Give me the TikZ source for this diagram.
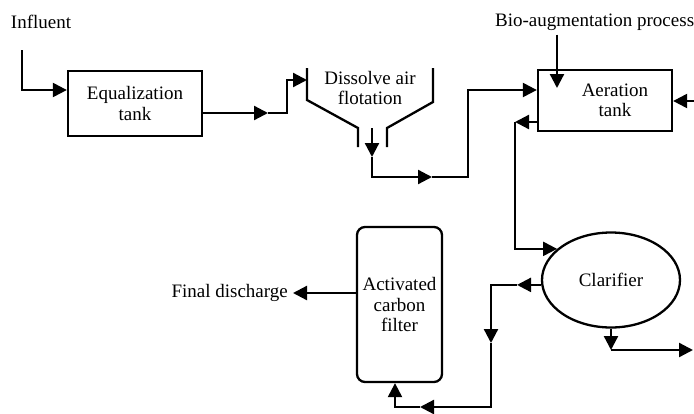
\documentclass[tikz,border=0pt]{standalone}
\usepackage{fontspec}
\setmainfont{Liberation Serif}
\usetikzlibrary{arrows.meta,shapes.geometric}
\begin{document}
\begin{tikzpicture}[x=1pt,y=-1pt,
  every node/.style={font=\fontsize{19}{20.5}\selectfont, align=center, inner sep=0pt},
  box/.style={draw, line width=2.3pt},
  flow/.style={line width=2.3pt, line join=miter, -{Triangle[length=14pt,width=14pt]}},
  pipe/.style={line width=2.3pt, line join=miter},
]
\useasboundingbox (0,0) rectangle (694,413);

% texts
\node (inf) at (41,22) {Influent};
\node[anchor=west] (bio) at (495,22) {Bio-augmentation process};
\node[anchor=east] (fin) at (288,293) {Final discharge};

% process units
\node[box, minimum width=134pt, minimum height=65pt] (eq) at (135,103.5) {Equalization\\tank};
\node[box, minimum width=134pt, minimum height=61pt] (aer) at (605,100.5) {\hspace*{20pt}Aeration\\\hspace*{20pt}tank};
\node[box, ellipse, minimum width=138pt, minimum height=95pt] (clar) at (611,280) {Clarifier};
\node[box, rounded corners=8pt, minimum width=85pt, minimum height=155pt] (acf) at (399.5,304.5) {Activated\\carbon\\filter};

% dissolved air flotation unit
\draw[pipe] (307,68) -- (307,100) -- (358,128) -- (358,147);
\draw[pipe] (387,147) -- (387,128) -- (433,102) -- (433,68);
\node (daf) at (370,88) {Dissolve air\\flotation};
\coordinate (dafin) at (307,80);
\coordinate (dafout) at (372,128);

% free ends
\coordinate (infstart) at (22,50);
\coordinate (rin) at (694,101);
\coordinate (clout) at (693,350);

% connectors
\draw[flow] (infstart) -- (22,90) -- (eq.west |- 0,90);
\draw[flow] (eq.east |- 0,113) -- (268,113);
\draw[flow] (268,113) -- (287,113) -- (287,80) -- (dafin);
\draw[flow] (dafout) -- (372,157);
\draw[flow] (372,157) -- (372,177) -- (432,177);
\draw[flow] (432,177) -- (468,177) -- (468,90) -- (aer.west |- 0,90);
\draw[flow, shorten <=4pt] (bio.south -| 557,0) -- (557,88);
\draw[flow] (rin) -- (aer.east |- rin);
\draw[flow] (aer.west |- 0,122) -- (515,122);
\draw[flow] (515,122) -- (clar.150.7 -| 515,0) -- (clar.150.7);
\draw[flow] (clar.184) -- (clar.184 -| 517,0);
\draw[flow] (clar.184 -| 517,0) -- (clar.184 -| 491,0) -- (491,343);
\draw[flow] (491,343) -- (491,407) -- (420,407);
\draw[flow] (420,407) -- (395,407) -- (acf.south -| 395,0);
\draw[flow] (acf.west |- 0,293) -- ([xshift=5pt]fin.east);
\draw[flow] (clar.south) -- (611,350);
\draw[flow] (611,350) -- (clout);
\end{tikzpicture}
\end{document}
